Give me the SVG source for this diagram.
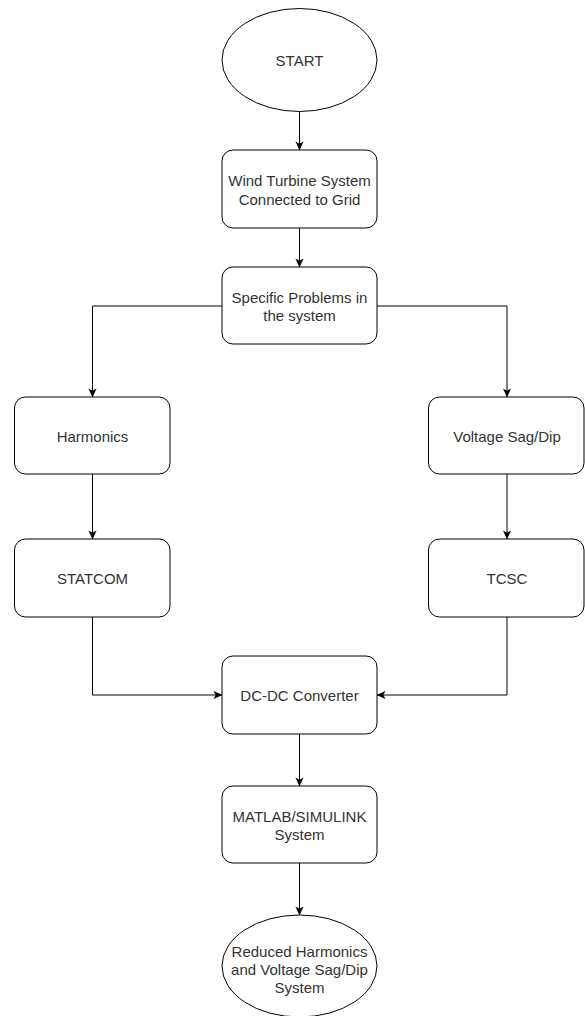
<svg xmlns="http://www.w3.org/2000/svg" width="585" height="1016" viewBox="0 0 585 1016">
<style>
.node{fill:#ffffff;stroke:#000000;stroke-width:1}
.lbl{font-family:"Liberation Sans",Arial,sans-serif;font-size:15px;fill:#333333;text-anchor:middle;dominant-baseline:central}
.edge{fill:none;stroke:#000000;stroke-width:1;marker-end:url(#arr)}
</style>
<defs>
<marker id="arr" viewBox="0 0 10 10" markerWidth="9" markerHeight="9" refX="9.5" refY="5" orient="auto" markerUnits="userSpaceOnUse">
<path d="M0,0.5 L10,5 L0,9.5 L2.5,5 Z" fill="#000000"/>
</marker>
</defs>
<rect width="585" height="1016" fill="#ffffff"/>
<g id="connectors">
<path class="edge" d="M299.5,112 L299.5,150"/>
<path class="edge" d="M299.5,228 L299.5,267"/>
<path class="edge" d="M222,306 L92.5,306 L92.5,397"/>
<path class="edge" d="M377,306 L507,306 L507,397"/>
<path class="edge" d="M92.5,474 L92.5,539"/>
<path class="edge" d="M507,474 L507,539"/>
<path class="edge" d="M92.5,617 L92.5,695 L222,695"/>
<path class="edge" d="M507,617 L507,695 L377,695"/>
<path class="edge" d="M299.5,734 L299.5,786"/>
<path class="edge" d="M299.5,863 L299.5,915"/>
</g>
<g id="start">
<ellipse class="node" cx="299.5" cy="60" rx="77.5" ry="51.5"/>
<text class="lbl" x="299.5" y="60">START</text>
</g>
<g id="wind">
<rect class="node" x="222" y="150" width="155" height="78" rx="11" ry="11"/>
<text class="lbl" x="299.5" y="180">Wind Turbine System</text>
<text class="lbl" x="299.5" y="199">Connected to Grid</text>
</g>
<g id="problems">
<rect class="node" x="222" y="267" width="155" height="77" rx="11" ry="11"/>
<text class="lbl" x="299.5" y="297">Specific Problems in</text>
<text class="lbl" x="299.5" y="315">the system</text>
</g>
<g id="harmonics">
<rect class="node" x="14.5" y="397" width="155.5" height="77" rx="11" ry="11"/>
<text class="lbl" x="92.5" y="436">Harmonics</text>
</g>
<g id="voltage">
<rect class="node" x="428.5" y="397" width="155.5" height="77" rx="11" ry="11"/>
<text class="lbl" x="507" y="436">Voltage Sag/Dip</text>
</g>
<g id="statcom">
<rect class="node" x="14.5" y="539" width="155.5" height="78" rx="11" ry="11"/>
<text class="lbl" x="92.5" y="578">STATCOM</text>
</g>
<g id="tcsc">
<rect class="node" x="428.5" y="539" width="155.5" height="78" rx="11" ry="11"/>
<text class="lbl" x="507" y="578">TCSC</text>
</g>
<g id="dcdc">
<rect class="node" x="222" y="656" width="155" height="78" rx="11" ry="11"/>
<text class="lbl" x="299.5" y="695">DC-DC Converter</text>
</g>
<g id="matlab">
<rect class="node" x="222" y="786" width="155" height="77" rx="11" ry="11"/>
<text class="lbl" x="299.5" y="816.5">MATLAB/SIMULINK</text>
<text class="lbl" x="299.5" y="834.5">System</text>
</g>
<g id="end">
<ellipse class="node" cx="299.5" cy="966" rx="77.5" ry="51"/>
<text class="lbl" x="299.5" y="951">Reduced Harmonics</text>
<text class="lbl" x="299.5" y="969">and Voltage Sag/Dip</text>
<text class="lbl" x="299.5" y="987">System</text>
</g>
</svg>
